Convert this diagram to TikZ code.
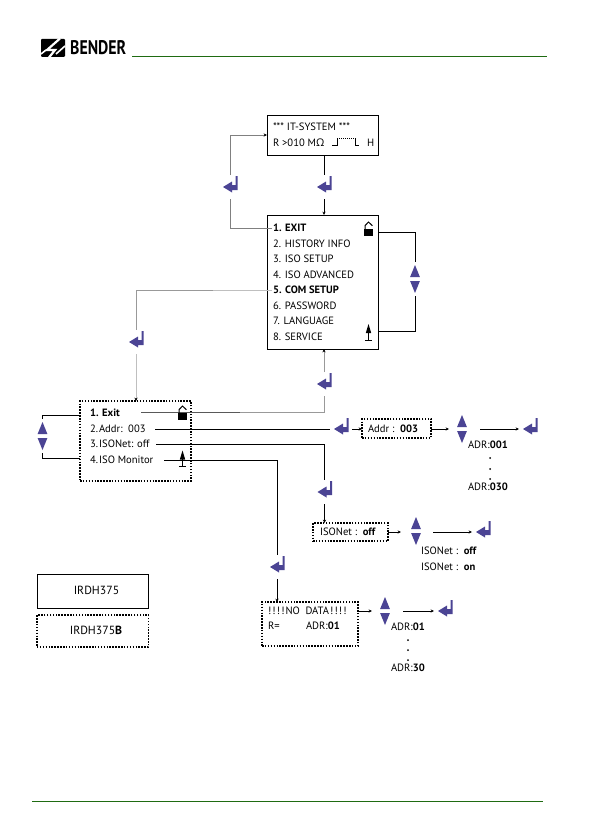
\documentclass[tikz,border=0pt]{standalone}
\usepackage{fontspec}
\usepackage{graphicx}
\setmainfont{PT Sans}
\newfontfamily\omfont{Open Sans}
\usetikzlibrary{arrows.meta,calc}
\definecolor{icon}{HTML}{4B4494}
\definecolor{bgreen}{HTML}{1F6B12}
\tikzset{
  x=1pt,y=-1pt,
  txt/.style={anchor=west,inner sep=0pt,outer sep=0pt,text height=7.5pt,text depth=0pt,font=\fontsize{10.6}{12}\selectfont},
  legtxt/.style={anchor=center,inner sep=0pt,outer sep=0pt,text height=8pt,text depth=0pt,font=\fontsize{11.8}{13}\selectfont},
  solidbox/.style={draw=black,line width=0.9pt,inner sep=0pt,outer sep=0pt},
  dotbox/.style={draw=black,line width=1.2pt,dash pattern=on 1.5pt off 1.4pt,inner sep=0pt,outer sep=0pt},
  conn/.style={draw=black,line width=0.7pt},
  grayconn/.style={draw=black!50,line width=0.7pt},
  lightconn/.style={draw=black!25,line width=0.8pt},
  tip/.style={-{Stealth[length=3.4pt,width=3.2pt,color=black]}},
  enterkey/.style={inner sep=0pt,outer sep=0pt,minimum width=22pt,minimum height=24pt,
    path picture={
      \coordinate (o) at (path picture bounding box.center);
      \fill[icon] ($(o)+(-7,0)$) -- ($(o)+(2,-5.5)$) -- ($(o)+(2,-2)$) -- ($(o)+(5.5,-2)$) -- ($(o)+(5.5,-11)$) -- ($(o)+(7.6,-11)$) -- ($(o)+(7.6,3)$) -- ($(o)+(2,3)$) -- ($(o)+(2,5.5)$) -- cycle;
    }},
  updown/.style={inner sep=0pt,outer sep=0pt,minimum width=12pt,minimum height=34pt,
    path picture={
      \coordinate (o) at (path picture bounding box.center);
      \fill[icon] ($(o)+(0,-14)$) -- ($(o)+(4.9,-2)$) -- ($(o)+(-4.9,-2)$) -- cycle;
      \fill[icon] ($(o)+(0,14)$) -- ($(o)+(4.9,2)$) -- ($(o)+(-4.9,2)$) -- cycle;
    }},
  padlock/.pic={
    \fill[black] (-4.5,1) rectangle (4.5,8);
    \draw[black,line width=1pt] (-3.4,1) -- (-3.4,-2.5) -- (0,-6) -- (3.9,-2.2);
  },
  uparrowT/.pic={
    \fill[black] (0,-8.5) -- (2.7,0.5) -- (-2.7,0.5) -- cycle;
    \draw[black,line width=1pt] (0,0) -- (0,7.5);
    \draw[black,line width=1.1pt] (-3.6,7.8) -- (3.6,7.8);
  },
}
\begin{document}
\begin{tikzpicture}
\useasboundingbox (0,0) rectangle (594,840);
% header
\fill[black,rounded corners=1pt] (41,39) rectangle (65,57);
\draw[white,line width=2.2pt] (60,38.5) -- (47,50) -- (55,50) -- (49,57.5);
\draw[white,line width=1.6pt] (41,54) -- (46,50);
\draw[white,line width=1.6pt] (65,46) -- (56,54);
\node[inner sep=0pt,anchor=west] (brand) at (70,48) {\resizebox{56pt}{14pt}{\bfseries BENDER}};
\coordinate (hl) at (132,56); \coordinate (hr) at (547,56);
\draw[bgreen,line width=0.8pt] (hl) -- (hr);
\coordinate (fl) at (32,801); \coordinate (fr) at (543,801);
\draw[bgreen,line width=0.8pt] (fl) -- (fr);

% boxes
\node[solidbox,minimum width=111pt,minimum height=40pt] (sys) at (322.5,135) {};
\node[solidbox,minimum width=111pt,minimum height=134pt] (menu) at (322.5,282) {};
\node[dotbox,minimum width=111pt,minimum height=80pt] (sub) at (135.5,441) {};
\node[dotbox,minimum width=69pt,minimum height=19pt] (addr) at (396.5,428.5) {};
\node[dotbox,minimum width=75pt,minimum height=18pt] (isonet) at (350.5,532) {};
\node[dotbox,minimum width=96pt,minimum height=44pt] (nodata) at (310,624) {};
\node[solidbox,minimum width=111.5pt,minimum height=34pt] (leg1) at (92.7,591) {};
\node[dotbox,minimum width=111.5pt,minimum height=32pt] (leg2) at (92.7,631) {};

% box 1 text
\node[txt] (s1) at (273,127) {*** IT-SYSTEM ***};
\node[txt] (s2) at (273,143) {R >010 M{\omfont Ω}};
\node[txt] (s3) at (367,143) {H};
\draw[black,line width=0.7pt] (332,145.5) -- (337,145.5) -- (337,138);
\draw[black,line width=0.7pt,dash pattern=on 1pt off 1pt] (337,138) -- (355,138);
\draw[black,line width=0.7pt] (355,138) -- (355,145.5) -- (359,145.5);

% menu
\node[txt] (m1) at (273,228) {\textbf{1. EXIT}};
\node[txt] (m2) at (273,243.5) {2. HISTORY INFO};
\node[txt] (m3) at (273,259) {3. ISO SETUP};
\node[txt] (m4) at (273,274.5) {4. ISO ADVANCED};
\node[txt] (m5) at (273,290) {\textbf{5. COM SETUP}};
\node[txt] (m6) at (273,305.5) {6. PASSWORD};
\node[txt] (m7) at (273,321) {7. LANGUAGE};
\node[txt] (m8) at (273,336.5) {8. SERVICE};
\pic at (368.5,228) {padlock};
\pic at (368.5,332.5) {uparrowT};

% sub menu
\node[txt] (a1) at (90,413) {\textbf{1. Exit}};
\node[txt] (a2) at (90,429) {2.\kern1pt Addr:\ \ 003};
\node[txt] (a3) at (90,444) {3.\kern1pt ISONet: off};
\node[txt] (a4) at (90,460) {4.\kern1pt ISO Monitor};

% other text
\node[txt] (b1) at (368,429) {Addr :\ \ \textbf{003}};
\node[txt] (b2) at (468,445) {ADR:\textbf{001}};
\node[txt] (b3) at (468,487) {ADR:\textbf{030}};
\node[txt] (c1) at (320,532) {ISONet :\ \ \textbf{off}};
\node[txt] (c2) at (421,551) {ISONet :\ \ \textbf{off}};
\node[txt] (c3) at (421,567) {ISONet :\ \ \textbf{on}};
\node[txt] (d1) at (268,611) {!\kern1.2pt!\kern1.2pt!\kern1.2pt!\kern1pt NO\ \ DATA\kern1pt !\kern1.2pt!\kern1.2pt!\kern1.2pt!};
\node[txt] (d2) at (268,626) {R=};
\node[txt] (d3) at (306,626) {ADR:\textbf{01}};
\node[txt] (d4) at (391,627) {ADR:\textbf{01}};
\node[txt] (d5) at (391,668) {ADR:\textbf{30}};
\node[legtxt] (l1) at (96.5,590) {IRDH375};
\node[legtxt] (l2) at (96,630) {IRDH375\textbf{B}};
\foreach \p in {(490,458),(490,469),(490,479),(408,640),(408,650),(408,660)} \fill[black] \p circle (1);

% enter keys and arrows
\node[enterkey] (e1) at (230,187) {};
\node[enterkey] (e2) at (324,187) {};
\node[enterkey] (e3) at (136,342) {};
\node[enterkey] (e4) at (324,384) {};
\node[enterkey] (e5) at (341,429) {};
\node[enterkey] (e6) at (530,429) {};
\node[enterkey] (e7) at (324.5,492) {};
\node[enterkey] (e8) at (483,532) {};
\node[enterkey] (e9) at (277,567) {};
\node[enterkey] (e10) at (445,611) {};
\node[updown] (u1) at (415,279) {};
\node[updown] (u2) at (42.5,436) {};
\node[updown] (u3) at (462,429) {};
\node[updown] (u4) at (416,531) {};
\node[updown] (u5) at (385,611) {};

% connectors
\draw[grayconn] ([xshift=-1pt]m1.west) -| (e1);
\draw[grayconn,tip] (e1) |- (sys);
\draw[conn] (e2 |- sys.south) -- (e2);
\draw[conn,tip] (e2) -- (e2 |- menu.north);
\coordinate (mr1) at (378,232);
\coordinate (mr2) at (378,331);
\draw[conn] (mr1) -| (u1);
\draw[conn] (u1) |- (mr2);
\coordinate (k1) at (213,290);
\draw[lightconn] ([xshift=-1pt]m5.west) -- (k1);
\draw[draw=black!40,line width=0.8pt] (k1) -| (e3);
\draw[lightconn,tip] (e3) -- (e3 |- sub.north);
\coordinate (x1) at (141,412);
\coordinate (x2) at (240,412);
\draw[draw=black!65,line width=0.7pt] (x1) -- (x2);
\draw[draw=black!40,line width=0.7pt] (x2) -| (e4);
\draw[draw=black!40,line width=0.7pt,tip] (e4) -- (e4 |- menu.south);
\coordinate (sl1) at (80,415);
\coordinate (sl2) at (80,458);
\draw[conn] (sl1) -| (u2);
\draw[conn] (u2) |- (sl2);
\coordinate (a2e) at (155,429);
\draw[conn] (a2e) -- (e5);
\draw[conn,tip] (e5) -- (addr.west |- e5);
\draw[conn,tip,shorten >=7pt] (addr.east |- u3) -- (u3.west);
\draw[conn,tip] ([xshift=12pt]u3.east) -- (e6);
\coordinate (a3e) at (156,444);
\draw[conn] (a3e) -| (e7);
\draw[conn,tip] (e7) -- (e7 |- isonet.north);
\draw[conn,tip,shorten >=9pt] (isonet.east) -- (u4.west |- isonet);
\draw[conn,tip] ([xshift=11pt]u4.east |- e8) -- (e8);
\coordinate (a4e) at (164,460);
\draw[conn] (a4e) -| (e9);
\draw[conn,tip] (e9) -- (e9 |- nodata.north);
\coordinate (nd) at (358,611);
\draw[conn,tip,shorten >=7pt] (nd) -- (u5.west);
\draw[conn,tip] ([xshift=12pt]u5.east) -- (e10);
\pic at (182.5,412) {padlock};
\pic at (182.5,459) {uparrowT};
\end{tikzpicture}
\end{document}
